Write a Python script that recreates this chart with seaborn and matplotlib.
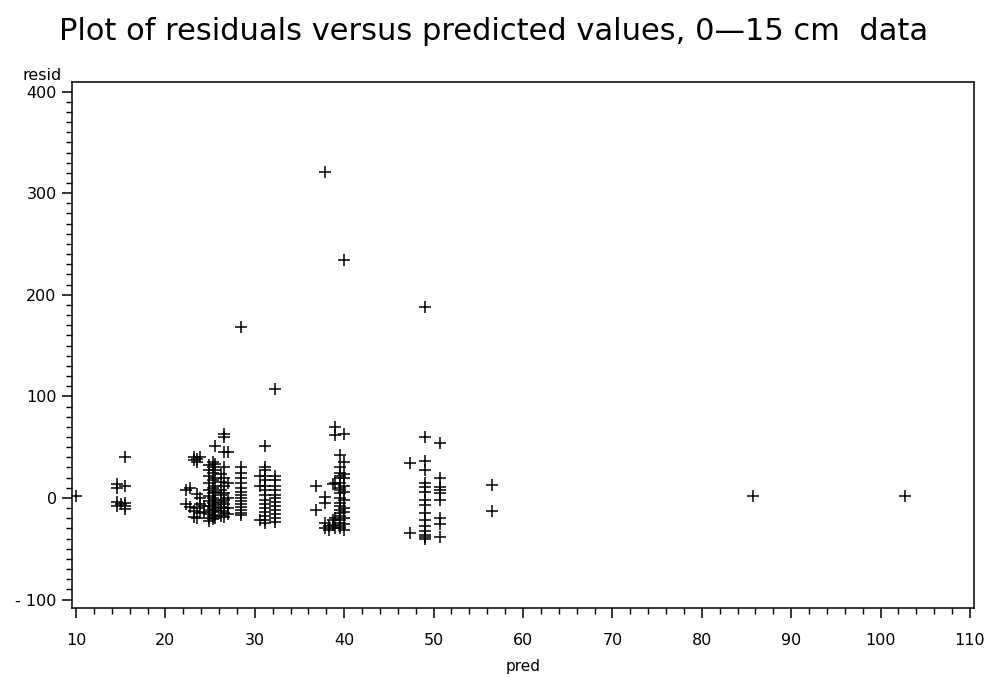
import matplotlib
matplotlib.use("Agg")
import matplotlib.pyplot as plt
from matplotlib.ticker import MultipleLocator
import seaborn as sns
import pandas as pd

# ---- data ----
col_pred = [10.0, 14.6, 15.0, 15.5,
            22.3, 22.8, 23.2, 23.5, 23.9, 24.3, 24.9, 25.3, 25.6, 26.2, 26.6, 27.0, 28.4,
            30.6, 31.1, 32.3,
            36.9, 37.8, 38.3, 38.7, 39.0, 39.5, 40.0,
            47.4, 49.0, 50.7, 56.5, 85.7, 102.7]
col_resid = [
    [2],
    [14, 10, -4, -8],
    [-6],
    [40, 12, -5, -8, -11],
    [8, -6],
    [10, -9],
    [40, 37, -13, -19],
    [38, 35, 4, -10, -20],
    [40, 0, -6, -15],
    [-8, -14],
    [32, 28, 22, 15, 8, 2, -3, -8, -12, -16, -20, -23],
    [35, 30, 25, 18, 10, 5, 0, -5, -10, -14, -18, -21],
    [51, 33, 28, 20, 12, 6, -2, -7, -12, -17, -20],
    [24, 16, 8, 3, -4, -9, -13, -18],
    [63, 60, 45, 30, 20, 12, 5, -2, -6, -10, -15, -19],
    [45, 15, 0, -10, -16],
    [168, 30, 25, 20, 15, 10, 6, 3, 0, -3, -6, -9, -12, -15, -17],
    [22, 12, -22],
    [51, 30, 28, 22, 18, 12, 8, 3, -2, -6, -10, -14, -18, -22, -25],
    [107, 22, 18, 12, 8, 3, 0, -4, -8, -12, -16, -20, -24],
    [12, -12],
    [321, 1, -5, -25, -30],
    [-28, -32],
    [14, -22, -27],
    [70, 62, 15, -20, -30],
    [42, 30, 25, 22, 20, 15, 10, 8, 5, 0, -5, -8, -12, -15, -18, -22, -25, -28, -30],
    [234, 63, 35, 24, 20, 12, 6, -2, -10, -14, -20, -26, -32],
    [34, -34],
    [188, 60, 36, 28, 15, 11, 6, -2, -7, -15, -22, -28, -33, -36, -38, -40],
    [54, 20, 11, 8, 5, -2, -20, -26, -38],
    [13, -13],
    [2],
    [2],
]
xticks = [10, 20, 30, 40, 50, 60, 70, 80, 90, 100, 110]
yticks = [-100, 0, 100, 200, 300, 400]
ytick_labels = ["- 100", "0", "100", "200", "300", "400"]
title = "Plot of residuals versus predicted values, 0\u201415 cm  data"

pred = [x for x, ys in zip(col_pred, col_resid) for _ in ys]
resid = [y for ys in col_resid for y in ys]
df = pd.DataFrame({"pred": pred, "resid": resid})

sns.set_theme(style="white")
plt.rcParams["font.family"] = ["DejaVu Sans"]

fig = plt.figure(figsize=(9.87, 6.78), dpi=100)
ax = fig.add_axes([72 / 987, 1 - 608 / 678, (974 - 72) / 987, (608 - 82) / 678])

sns.scatterplot(data=df, x="pred", y="resid", marker="+", color="black",
                s=64, linewidth=1.1, ax=ax, legend=False)

ax.set_xlim(9.55, 110.45)
ax.set_ylim(-108.3, 409.4)
ax.set_xticks(xticks)
ax.set_xticklabels([str(t) for t in xticks])
ax.set_yticks(yticks)
ax.set_yticklabels(ytick_labels)
ax.xaxis.set_minor_locator(MultipleLocator(2))
ax.yaxis.set_minor_locator(MultipleLocator(10))
ax.tick_params(axis="both", which="major", direction="out", length=7, width=1.1,
               color="black", labelsize=11.5, labelcolor="black")
ax.tick_params(axis="both", which="minor", direction="out", length=4, width=1.0,
               color="black")
ax.tick_params(axis="x", which="both", bottom=True, pad=11)
ax.tick_params(axis="y", which="both", left=True, pad=4)
for s in ax.spines.values():
    s.set_color("black")
    s.set_linewidth(1.1)
    s.set_visible(True)

ax.set_xlabel("")
ax.set_ylabel("")
fig.text(62 / 987, 1 - 75 / 678, "resid", ha="right", va="center", fontsize=11.5, color="black")
fig.text(523 / 987, 1 - 666 / 678, "pred", ha="center", va="center", fontsize=11, color="black")
fig.text(0.5, 1 - 32 / 678, title, ha="center", va="center", fontsize=22, color="black")

fig.savefig("out.png", dpi=100, facecolor="white")
